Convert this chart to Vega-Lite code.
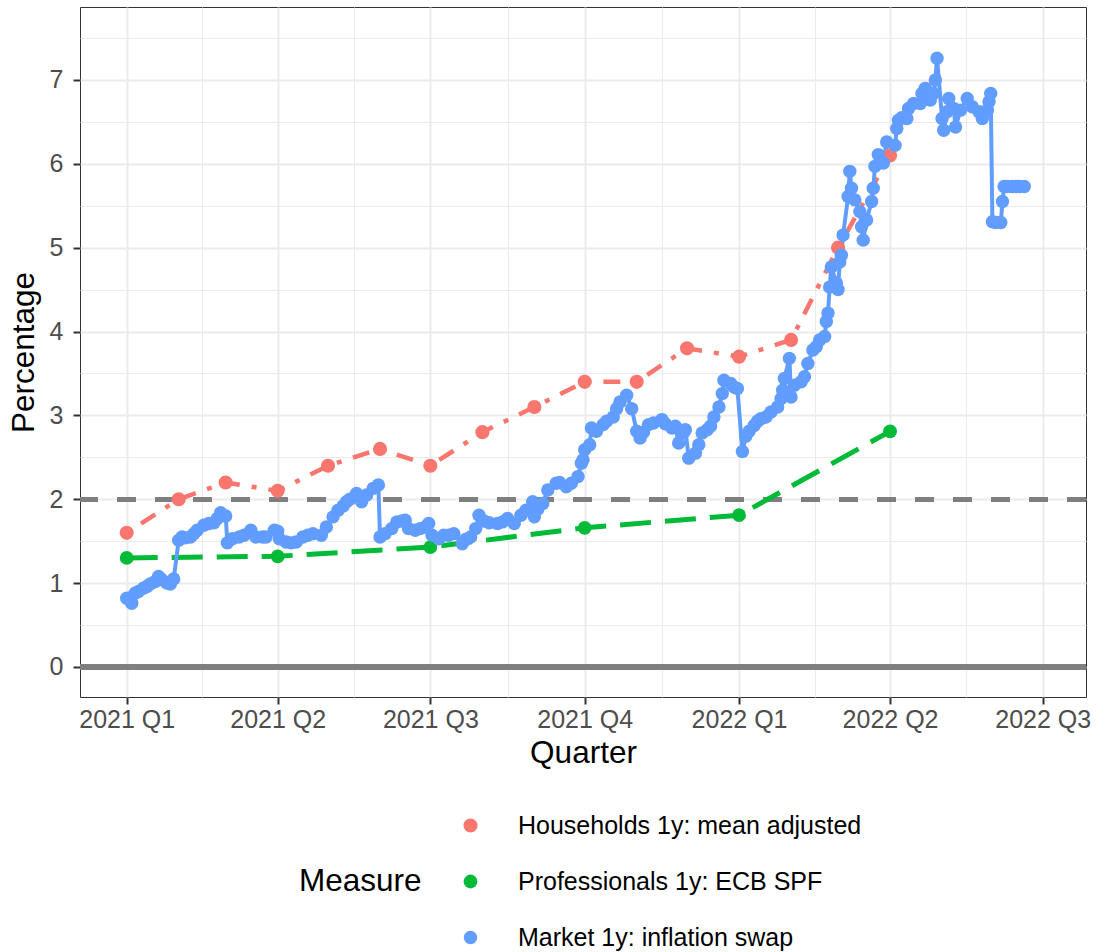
{
  "$schema": "https://vega.github.io/schema/vega-lite/v6.json",
  "width": 1006,
  "height": 690,
  "autosize": {"type": "none"},
  "padding": {"left": 80, "top": 7, "right": 11, "bottom": 255},
  "background": "white",
  "config": {
    "font": "Liberation Sans",
    "view": {"stroke": "#333333", "strokeWidth": 1}
  },
  "data": {
    "values": [
      {"date": "2021-01-01", "value": 1.6, "series": "Households 1y: mean adjusted"},
      {"date": "2021-02-01", "value": 2.0, "series": "Households 1y: mean adjusted"},
      {"date": "2021-03-01", "value": 2.2, "series": "Households 1y: mean adjusted"},
      {"date": "2021-04-01", "value": 2.1, "series": "Households 1y: mean adjusted"},
      {"date": "2021-05-01", "value": 2.4, "series": "Households 1y: mean adjusted"},
      {"date": "2021-06-01", "value": 2.6, "series": "Households 1y: mean adjusted"},
      {"date": "2021-07-01", "value": 2.4, "series": "Households 1y: mean adjusted"},
      {"date": "2021-08-01", "value": 2.8, "series": "Households 1y: mean adjusted"},
      {"date": "2021-09-01", "value": 3.1, "series": "Households 1y: mean adjusted"},
      {"date": "2021-10-01", "value": 3.4, "series": "Households 1y: mean adjusted"},
      {"date": "2021-11-01", "value": 3.4, "series": "Households 1y: mean adjusted"},
      {"date": "2021-12-01", "value": 3.8, "series": "Households 1y: mean adjusted"},
      {"date": "2022-01-01", "value": 3.7, "series": "Households 1y: mean adjusted"},
      {"date": "2022-02-01", "value": 3.9, "series": "Households 1y: mean adjusted"},
      {"date": "2022-03-01", "value": 5.0, "series": "Households 1y: mean adjusted"},
      {"date": "2022-04-01", "value": 6.1, "series": "Households 1y: mean adjusted"},
      {"date": "2021-01-01", "value": 1.30, "series": "Professionals 1y: ECB SPF"},
      {"date": "2021-04-01", "value": 1.32, "series": "Professionals 1y: ECB SPF"},
      {"date": "2021-07-01", "value": 1.43, "series": "Professionals 1y: ECB SPF"},
      {"date": "2021-10-01", "value": 1.66, "series": "Professionals 1y: ECB SPF"},
      {"date": "2022-01-01", "value": 1.81, "series": "Professionals 1y: ECB SPF"},
      {"date": "2022-04-01", "value": 2.81, "series": "Professionals 1y: ECB SPF"},
      {"date": "2021-01-01", "value": 0.82, "series": "Market 1y: inflation swap"},
      {"date": "2021-01-04", "value": 0.76, "series": "Market 1y: inflation swap"},
      {"date": "2021-01-06", "value": 0.88, "series": "Market 1y: inflation swap"},
      {"date": "2021-01-08", "value": 0.90, "series": "Market 1y: inflation swap"},
      {"date": "2021-01-11", "value": 0.94, "series": "Market 1y: inflation swap"},
      {"date": "2021-01-13", "value": 0.96, "series": "Market 1y: inflation swap"},
      {"date": "2021-01-15", "value": 0.99, "series": "Market 1y: inflation swap"},
      {"date": "2021-01-18", "value": 1.02, "series": "Market 1y: inflation swap"},
      {"date": "2021-01-20", "value": 1.08, "series": "Market 1y: inflation swap"},
      {"date": "2021-01-22", "value": 1.04, "series": "Market 1y: inflation swap"},
      {"date": "2021-01-25", "value": 1.00, "series": "Market 1y: inflation swap"},
      {"date": "2021-01-27", "value": 0.99, "series": "Market 1y: inflation swap"},
      {"date": "2021-01-29", "value": 1.05, "series": "Market 1y: inflation swap"},
      {"date": "2021-02-01", "value": 1.51, "series": "Market 1y: inflation swap"},
      {"date": "2021-02-03", "value": 1.55, "series": "Market 1y: inflation swap"},
      {"date": "2021-02-05", "value": 1.54, "series": "Market 1y: inflation swap"},
      {"date": "2021-02-08", "value": 1.55, "series": "Market 1y: inflation swap"},
      {"date": "2021-02-10", "value": 1.59, "series": "Market 1y: inflation swap"},
      {"date": "2021-02-12", "value": 1.63, "series": "Market 1y: inflation swap"},
      {"date": "2021-02-16", "value": 1.69, "series": "Market 1y: inflation swap"},
      {"date": "2021-02-19", "value": 1.71, "series": "Market 1y: inflation swap"},
      {"date": "2021-02-22", "value": 1.72, "series": "Market 1y: inflation swap"},
      {"date": "2021-02-24", "value": 1.77, "series": "Market 1y: inflation swap"},
      {"date": "2021-02-26", "value": 1.84, "series": "Market 1y: inflation swap"},
      {"date": "2021-03-01", "value": 1.80, "series": "Market 1y: inflation swap"},
      {"date": "2021-03-02", "value": 1.48, "series": "Market 1y: inflation swap"},
      {"date": "2021-03-05", "value": 1.53, "series": "Market 1y: inflation swap"},
      {"date": "2021-03-09", "value": 1.55, "series": "Market 1y: inflation swap"},
      {"date": "2021-03-12", "value": 1.57, "series": "Market 1y: inflation swap"},
      {"date": "2021-03-16", "value": 1.63, "series": "Market 1y: inflation swap"},
      {"date": "2021-03-19", "value": 1.55, "series": "Market 1y: inflation swap"},
      {"date": "2021-03-23", "value": 1.55, "series": "Market 1y: inflation swap"},
      {"date": "2021-03-25", "value": 1.55, "series": "Market 1y: inflation swap"},
      {"date": "2021-03-30", "value": 1.63, "series": "Market 1y: inflation swap"},
      {"date": "2021-04-01", "value": 1.62, "series": "Market 1y: inflation swap"},
      {"date": "2021-04-02", "value": 1.53, "series": "Market 1y: inflation swap"},
      {"date": "2021-04-06", "value": 1.49, "series": "Market 1y: inflation swap"},
      {"date": "2021-04-09", "value": 1.48, "series": "Market 1y: inflation swap"},
      {"date": "2021-04-12", "value": 1.49, "series": "Market 1y: inflation swap"},
      {"date": "2021-04-16", "value": 1.55, "series": "Market 1y: inflation swap"},
      {"date": "2021-04-19", "value": 1.57, "series": "Market 1y: inflation swap"},
      {"date": "2021-04-22", "value": 1.59, "series": "Market 1y: inflation swap"},
      {"date": "2021-04-27", "value": 1.57, "series": "Market 1y: inflation swap"},
      {"date": "2021-04-30", "value": 1.67, "series": "Market 1y: inflation swap"},
      {"date": "2021-05-04", "value": 1.79, "series": "Market 1y: inflation swap"},
      {"date": "2021-05-07", "value": 1.87, "series": "Market 1y: inflation swap"},
      {"date": "2021-05-10", "value": 1.92, "series": "Market 1y: inflation swap"},
      {"date": "2021-05-12", "value": 1.97, "series": "Market 1y: inflation swap"},
      {"date": "2021-05-14", "value": 2.00, "series": "Market 1y: inflation swap"},
      {"date": "2021-05-18", "value": 2.07, "series": "Market 1y: inflation swap"},
      {"date": "2021-05-21", "value": 1.97, "series": "Market 1y: inflation swap"},
      {"date": "2021-05-24", "value": 2.05, "series": "Market 1y: inflation swap"},
      {"date": "2021-05-28", "value": 2.13, "series": "Market 1y: inflation swap"},
      {"date": "2021-05-31", "value": 2.17, "series": "Market 1y: inflation swap"},
      {"date": "2021-06-01", "value": 1.55, "series": "Market 1y: inflation swap"},
      {"date": "2021-06-04", "value": 1.59, "series": "Market 1y: inflation swap"},
      {"date": "2021-06-08", "value": 1.65, "series": "Market 1y: inflation swap"},
      {"date": "2021-06-11", "value": 1.73, "series": "Market 1y: inflation swap"},
      {"date": "2021-06-14", "value": 1.74, "series": "Market 1y: inflation swap"},
      {"date": "2021-06-16", "value": 1.75, "series": "Market 1y: inflation swap"},
      {"date": "2021-06-18", "value": 1.65, "series": "Market 1y: inflation swap"},
      {"date": "2021-06-22", "value": 1.63, "series": "Market 1y: inflation swap"},
      {"date": "2021-06-25", "value": 1.65, "series": "Market 1y: inflation swap"},
      {"date": "2021-06-28", "value": 1.67, "series": "Market 1y: inflation swap"},
      {"date": "2021-06-30", "value": 1.71, "series": "Market 1y: inflation swap"},
      {"date": "2021-07-02", "value": 1.57, "series": "Market 1y: inflation swap"},
      {"date": "2021-07-06", "value": 1.53, "series": "Market 1y: inflation swap"},
      {"date": "2021-07-09", "value": 1.57, "series": "Market 1y: inflation swap"},
      {"date": "2021-07-12", "value": 1.57, "series": "Market 1y: inflation swap"},
      {"date": "2021-07-15", "value": 1.59, "series": "Market 1y: inflation swap"},
      {"date": "2021-07-20", "value": 1.47, "series": "Market 1y: inflation swap"},
      {"date": "2021-07-22", "value": 1.52, "series": "Market 1y: inflation swap"},
      {"date": "2021-07-25", "value": 1.55, "series": "Market 1y: inflation swap"},
      {"date": "2021-07-28", "value": 1.65, "series": "Market 1y: inflation swap"},
      {"date": "2021-07-30", "value": 1.81, "series": "Market 1y: inflation swap"},
      {"date": "2021-08-02", "value": 1.74, "series": "Market 1y: inflation swap"},
      {"date": "2021-08-05", "value": 1.72, "series": "Market 1y: inflation swap"},
      {"date": "2021-08-10", "value": 1.71, "series": "Market 1y: inflation swap"},
      {"date": "2021-08-13", "value": 1.73, "series": "Market 1y: inflation swap"},
      {"date": "2021-08-16", "value": 1.77, "series": "Market 1y: inflation swap"},
      {"date": "2021-08-20", "value": 1.71, "series": "Market 1y: inflation swap"},
      {"date": "2021-08-24", "value": 1.81, "series": "Market 1y: inflation swap"},
      {"date": "2021-08-27", "value": 1.87, "series": "Market 1y: inflation swap"},
      {"date": "2021-08-31", "value": 1.97, "series": "Market 1y: inflation swap"},
      {"date": "2021-09-01", "value": 1.79, "series": "Market 1y: inflation swap"},
      {"date": "2021-09-03", "value": 1.88, "series": "Market 1y: inflation swap"},
      {"date": "2021-09-06", "value": 1.95, "series": "Market 1y: inflation swap"},
      {"date": "2021-09-09", "value": 2.11, "series": "Market 1y: inflation swap"},
      {"date": "2021-09-14", "value": 2.19, "series": "Market 1y: inflation swap"},
      {"date": "2021-09-16", "value": 2.20, "series": "Market 1y: inflation swap"},
      {"date": "2021-09-20", "value": 2.15, "series": "Market 1y: inflation swap"},
      {"date": "2021-09-23", "value": 2.19, "series": "Market 1y: inflation swap"},
      {"date": "2021-09-27", "value": 2.27, "series": "Market 1y: inflation swap"},
      {"date": "2021-09-29", "value": 2.43, "series": "Market 1y: inflation swap"},
      {"date": "2021-09-30", "value": 2.47, "series": "Market 1y: inflation swap"},
      {"date": "2021-10-01", "value": 2.59, "series": "Market 1y: inflation swap"},
      {"date": "2021-10-04", "value": 2.65, "series": "Market 1y: inflation swap"},
      {"date": "2021-10-05", "value": 2.85, "series": "Market 1y: inflation swap"},
      {"date": "2021-10-08", "value": 2.81, "series": "Market 1y: inflation swap"},
      {"date": "2021-10-12", "value": 2.89, "series": "Market 1y: inflation swap"},
      {"date": "2021-10-14", "value": 2.93, "series": "Market 1y: inflation swap"},
      {"date": "2021-10-18", "value": 2.98, "series": "Market 1y: inflation swap"},
      {"date": "2021-10-20", "value": 3.08, "series": "Market 1y: inflation swap"},
      {"date": "2021-10-22", "value": 3.16, "series": "Market 1y: inflation swap"},
      {"date": "2021-10-26", "value": 3.24, "series": "Market 1y: inflation swap"},
      {"date": "2021-10-29", "value": 3.08, "series": "Market 1y: inflation swap"},
      {"date": "2021-11-01", "value": 2.81, "series": "Market 1y: inflation swap"},
      {"date": "2021-11-03", "value": 2.73, "series": "Market 1y: inflation swap"},
      {"date": "2021-11-05", "value": 2.80, "series": "Market 1y: inflation swap"},
      {"date": "2021-11-08", "value": 2.89, "series": "Market 1y: inflation swap"},
      {"date": "2021-11-11", "value": 2.91, "series": "Market 1y: inflation swap"},
      {"date": "2021-11-16", "value": 2.95, "series": "Market 1y: inflation swap"},
      {"date": "2021-11-18", "value": 2.90, "series": "Market 1y: inflation swap"},
      {"date": "2021-11-22", "value": 2.85, "series": "Market 1y: inflation swap"},
      {"date": "2021-11-24", "value": 2.87, "series": "Market 1y: inflation swap"},
      {"date": "2021-11-26", "value": 2.67, "series": "Market 1y: inflation swap"},
      {"date": "2021-11-29", "value": 2.80, "series": "Market 1y: inflation swap"},
      {"date": "2021-11-30", "value": 2.83, "series": "Market 1y: inflation swap"},
      {"date": "2021-12-02", "value": 2.49, "series": "Market 1y: inflation swap"},
      {"date": "2021-12-06", "value": 2.55, "series": "Market 1y: inflation swap"},
      {"date": "2021-12-08", "value": 2.65, "series": "Market 1y: inflation swap"},
      {"date": "2021-12-10", "value": 2.79, "series": "Market 1y: inflation swap"},
      {"date": "2021-12-13", "value": 2.83, "series": "Market 1y: inflation swap"},
      {"date": "2021-12-15", "value": 2.87, "series": "Market 1y: inflation swap"},
      {"date": "2021-12-17", "value": 2.98, "series": "Market 1y: inflation swap"},
      {"date": "2021-12-20", "value": 3.10, "series": "Market 1y: inflation swap"},
      {"date": "2021-12-22", "value": 3.26, "series": "Market 1y: inflation swap"},
      {"date": "2021-12-23", "value": 3.42, "series": "Market 1y: inflation swap"},
      {"date": "2021-12-27", "value": 3.38, "series": "Market 1y: inflation swap"},
      {"date": "2021-12-29", "value": 3.34, "series": "Market 1y: inflation swap"},
      {"date": "2021-12-31", "value": 3.32, "series": "Market 1y: inflation swap"},
      {"date": "2022-01-03", "value": 2.57, "series": "Market 1y: inflation swap"},
      {"date": "2022-01-05", "value": 2.75, "series": "Market 1y: inflation swap"},
      {"date": "2022-01-07", "value": 2.81, "series": "Market 1y: inflation swap"},
      {"date": "2022-01-10", "value": 2.88, "series": "Market 1y: inflation swap"},
      {"date": "2022-01-12", "value": 2.93, "series": "Market 1y: inflation swap"},
      {"date": "2022-01-14", "value": 2.96, "series": "Market 1y: inflation swap"},
      {"date": "2022-01-17", "value": 2.98, "series": "Market 1y: inflation swap"},
      {"date": "2022-01-20", "value": 3.04, "series": "Market 1y: inflation swap"},
      {"date": "2022-01-24", "value": 3.10, "series": "Market 1y: inflation swap"},
      {"date": "2022-01-26", "value": 3.20, "series": "Market 1y: inflation swap"},
      {"date": "2022-01-27", "value": 3.30, "series": "Market 1y: inflation swap"},
      {"date": "2022-01-28", "value": 3.44, "series": "Market 1y: inflation swap"},
      {"date": "2022-01-31", "value": 3.68, "series": "Market 1y: inflation swap"},
      {"date": "2022-02-01", "value": 3.22, "series": "Market 1y: inflation swap"},
      {"date": "2022-02-03", "value": 3.36, "series": "Market 1y: inflation swap"},
      {"date": "2022-02-07", "value": 3.40, "series": "Market 1y: inflation swap"},
      {"date": "2022-02-09", "value": 3.46, "series": "Market 1y: inflation swap"},
      {"date": "2022-02-11", "value": 3.62, "series": "Market 1y: inflation swap"},
      {"date": "2022-02-14", "value": 3.78, "series": "Market 1y: inflation swap"},
      {"date": "2022-02-16", "value": 3.82, "series": "Market 1y: inflation swap"},
      {"date": "2022-02-18", "value": 3.90, "series": "Market 1y: inflation swap"},
      {"date": "2022-02-21", "value": 3.94, "series": "Market 1y: inflation swap"},
      {"date": "2022-02-22", "value": 4.12, "series": "Market 1y: inflation swap"},
      {"date": "2022-02-23", "value": 4.22, "series": "Market 1y: inflation swap"},
      {"date": "2022-02-24", "value": 4.53, "series": "Market 1y: inflation swap"},
      {"date": "2022-02-25", "value": 4.77, "series": "Market 1y: inflation swap"},
      {"date": "2022-02-28", "value": 4.58, "series": "Market 1y: inflation swap"},
      {"date": "2022-03-01", "value": 4.50, "series": "Market 1y: inflation swap"},
      {"date": "2022-03-02", "value": 4.83, "series": "Market 1y: inflation swap"},
      {"date": "2022-03-03", "value": 4.91, "series": "Market 1y: inflation swap"},
      {"date": "2022-03-04", "value": 5.15, "series": "Market 1y: inflation swap"},
      {"date": "2022-03-07", "value": 5.61, "series": "Market 1y: inflation swap"},
      {"date": "2022-03-08", "value": 5.91, "series": "Market 1y: inflation swap"},
      {"date": "2022-03-09", "value": 5.71, "series": "Market 1y: inflation swap"},
      {"date": "2022-03-11", "value": 5.57, "series": "Market 1y: inflation swap"},
      {"date": "2022-03-14", "value": 5.43, "series": "Market 1y: inflation swap"},
      {"date": "2022-03-15", "value": 5.25, "series": "Market 1y: inflation swap"},
      {"date": "2022-03-16", "value": 5.09, "series": "Market 1y: inflation swap"},
      {"date": "2022-03-18", "value": 5.33, "series": "Market 1y: inflation swap"},
      {"date": "2022-03-21", "value": 5.55, "series": "Market 1y: inflation swap"},
      {"date": "2022-03-22", "value": 5.71, "series": "Market 1y: inflation swap"},
      {"date": "2022-03-23", "value": 5.97, "series": "Market 1y: inflation swap"},
      {"date": "2022-03-25", "value": 6.11, "series": "Market 1y: inflation swap"},
      {"date": "2022-03-28", "value": 6.01, "series": "Market 1y: inflation swap"},
      {"date": "2022-03-30", "value": 6.26, "series": "Market 1y: inflation swap"},
      {"date": "2022-04-04", "value": 6.22, "series": "Market 1y: inflation swap"},
      {"date": "2022-04-05", "value": 6.42, "series": "Market 1y: inflation swap"},
      {"date": "2022-04-06", "value": 6.52, "series": "Market 1y: inflation swap"},
      {"date": "2022-04-08", "value": 6.55, "series": "Market 1y: inflation swap"},
      {"date": "2022-04-11", "value": 6.54, "series": "Market 1y: inflation swap"},
      {"date": "2022-04-12", "value": 6.66, "series": "Market 1y: inflation swap"},
      {"date": "2022-04-15", "value": 6.72, "series": "Market 1y: inflation swap"},
      {"date": "2022-04-19", "value": 6.72, "series": "Market 1y: inflation swap"},
      {"date": "2022-04-20", "value": 6.84, "series": "Market 1y: inflation swap"},
      {"date": "2022-04-22", "value": 6.90, "series": "Market 1y: inflation swap"},
      {"date": "2022-04-25", "value": 6.76, "series": "Market 1y: inflation swap"},
      {"date": "2022-04-27", "value": 6.84, "series": "Market 1y: inflation swap"},
      {"date": "2022-04-28", "value": 7.00, "series": "Market 1y: inflation swap"},
      {"date": "2022-04-29", "value": 7.26, "series": "Market 1y: inflation swap"},
      {"date": "2022-05-02", "value": 6.54, "series": "Market 1y: inflation swap"},
      {"date": "2022-05-03", "value": 6.40, "series": "Market 1y: inflation swap"},
      {"date": "2022-05-05", "value": 6.62, "series": "Market 1y: inflation swap"},
      {"date": "2022-05-06", "value": 6.78, "series": "Market 1y: inflation swap"},
      {"date": "2022-05-09", "value": 6.66, "series": "Market 1y: inflation swap"},
      {"date": "2022-05-10", "value": 6.44, "series": "Market 1y: inflation swap"},
      {"date": "2022-05-13", "value": 6.64, "series": "Market 1y: inflation swap"},
      {"date": "2022-05-17", "value": 6.78, "series": "Market 1y: inflation swap"},
      {"date": "2022-05-20", "value": 6.68, "series": "Market 1y: inflation swap"},
      {"date": "2022-05-24", "value": 6.62, "series": "Market 1y: inflation swap"},
      {"date": "2022-05-26", "value": 6.54, "series": "Market 1y: inflation swap"},
      {"date": "2022-05-29", "value": 6.64, "series": "Market 1y: inflation swap"},
      {"date": "2022-05-30", "value": 6.74, "series": "Market 1y: inflation swap"},
      {"date": "2022-05-31", "value": 6.84, "series": "Market 1y: inflation swap"},
      {"date": "2022-06-01", "value": 5.31, "series": "Market 1y: inflation swap"},
      {"date": "2022-06-03", "value": 5.30, "series": "Market 1y: inflation swap"},
      {"date": "2022-06-06", "value": 5.30, "series": "Market 1y: inflation swap"},
      {"date": "2022-06-07", "value": 5.55, "series": "Market 1y: inflation swap"},
      {"date": "2022-06-08", "value": 5.73, "series": "Market 1y: inflation swap"},
      {"date": "2022-06-10", "value": 5.73, "series": "Market 1y: inflation swap"},
      {"date": "2022-06-13", "value": 5.73, "series": "Market 1y: inflation swap"},
      {"date": "2022-06-15", "value": 5.73, "series": "Market 1y: inflation swap"},
      {"date": "2022-06-17", "value": 5.73, "series": "Market 1y: inflation swap"},
      {"date": "2022-06-20", "value": 5.73, "series": "Market 1y: inflation swap"}
    ]
  },
  "encoding": {
    "x": {
      "field": "date",
      "type": "temporal",
      "scale": {
        "type": "utc",
        "domain": [
          {"year": 2020, "month": 12, "date": 4, "hours": 4, "utc": true},
          {"year": 2022, "month": 7, "date": 26, "hours": 19, "utc": true}
        ],
        "nice": false
      },
      "axis": {
        "title": "Quarter",
        "values": [
          {"year": 2021, "month": 1, "date": 1, "utc": true},
          {"year": 2021, "month": 2, "date": 15, "utc": true},
          {"year": 2021, "month": 4, "date": 1, "utc": true},
          {"year": 2021, "month": 5, "date": 16, "hours": 12, "utc": true},
          {"year": 2021, "month": 7, "date": 1, "utc": true},
          {"year": 2021, "month": 8, "date": 16, "utc": true},
          {"year": 2021, "month": 10, "date": 1, "utc": true},
          {"year": 2021, "month": 11, "date": 16, "utc": true},
          {"year": 2022, "month": 1, "date": 1, "utc": true},
          {"year": 2022, "month": 2, "date": 15, "utc": true},
          {"year": 2022, "month": 4, "date": 1, "utc": true},
          {"year": 2022, "month": 5, "date": 16, "hours": 12, "utc": true},
          {"year": 2022, "month": 7, "date": 1, "utc": true}
        ],
        "labelExpr": "utcdate(datum.value) === 1 ? utcyear(datum.value) + ' Q' + utcquarter(datum.value) : ''",
        "labelFontSize": 25,
        "labelColor": "#4D4D4D",
        "labelPadding": 3,
        "labelFlush": false,
        "labelOverlap": false,
        "domain": false,
        "grid": true,
        "gridColor": "#EBEBEB",
        "gridWidth": {"condition": {"test": "utcdate(datum.value) === 1", "value": 2}, "value": 1},
        "tickColor": "#333333",
        "tickWidth": 2,
        "tickSize": 7,
        "tickOpacity": {"condition": {"test": "utcdate(datum.value) === 1", "value": 1}, "value": 0},
        "titleFontSize": 31.5,
        "titleFontWeight": "normal",
        "titleColor": "#000000",
        "titlePadding": 5
      }
    },
    "y": {
      "field": "value",
      "type": "quantitative",
      "scale": {"domain": [-0.358, 7.87], "nice": false, "zero": false},
      "axis": {
        "title": "Percentage",
        "values": [0, 0.5, 1, 1.5, 2, 2.5, 3, 3.5, 4, 4.5, 5, 5.5, 6, 6.5, 7, 7.5],
        "labelExpr": "datum.value % 1 === 0 ? '' + datum.value : ''",
        "labelFontSize": 25,
        "labelColor": "#4D4D4D",
        "labelPadding": 10,
        "labelFlush": false,
        "labelOverlap": false,
        "domain": false,
        "grid": true,
        "gridColor": "#EBEBEB",
        "gridWidth": {"condition": {"test": "datum.value % 1 === 0", "value": 2}, "value": 1},
        "tickColor": "#333333",
        "tickWidth": 2,
        "tickSize": 7,
        "tickOpacity": {"condition": {"test": "datum.value % 1 === 0", "value": 1}, "value": 0},
        "titleFontSize": 31.5,
        "titleFontWeight": "normal",
        "titleColor": "#000000",
        "titlePadding": 9
      }
    }
  },
  "layer": [
    {
      "mark": {"type": "rule", "color": "#7F7F7F", "strokeWidth": 4.5},
      "encoding": {"y": {"datum": 0, "type": "quantitative"}, "x": null}
    },
    {
      "mark": {"type": "rule", "color": "#7F7F7F", "strokeWidth": 4.5, "strokeDash": [19, 19]},
      "encoding": {"y": {"datum": 2, "type": "quantitative"}, "x": null}
    },
    {
      "transform": [{"filter": "datum.series === 'Households 1y: mean adjusted'"}],
      "mark": {"type": "line", "color": "#F8766D", "strokeWidth": 4.5, "strokeDash": [5, 12, 17, 12]}
    },
    {
      "transform": [{"filter": "datum.series === 'Professionals 1y: ECB SPF'"}],
      "mark": {"type": "line", "color": "#00BA38", "strokeWidth": 5, "strokeDash": [31, 14]}
    },
    {
      "transform": [{"filter": "datum.series === 'Market 1y: inflation swap'"}],
      "mark": {"type": "line", "color": "#619CFF", "strokeWidth": 4}
    },
    {
      "mark": {"type": "point", "filled": true, "opacity": 1, "strokeWidth": 0},
      "encoding": {
        "color": {
          "field": "series",
          "type": "nominal",
          "scale": {
            "domain": ["Households 1y: mean adjusted", "Professionals 1y: ECB SPF", "Market 1y: inflation swap"],
            "range": ["#F8766D", "#00BA38", "#619CFF"]
          },
          "legend": {
            "title": "Measure",
            "orient": "none",
            "legendX": 219,
            "legendY": 806,
            "titleOrient": "left",
            "titleAnchor": "middle",
            "titleBaseline": "middle",
            "titleFontSize": 31.5,
            "titleFontWeight": "normal",
            "titleColor": "#000000",
            "titlePadding": 36,
            "labelFontSize": 25,
            "labelColor": "#000000",
            "labelOffset": 35,
            "labelLimit": 0,
            "symbolType": "circle",
            "symbolSize": 75,
            "symbolStrokeWidth": 0,
            "symbolOpacity": 1,
            "rowPadding": 30,
            "padding": 0
          }
        },
        "size": {
          "field": "series",
          "type": "nominal",
          "scale": {
            "domain": ["Households 1y: mean adjusted", "Professionals 1y: ECB SPF", "Market 1y: inflation swap"],
            "range": [200, 180, 78]
          },
          "legend": null
        }
      }
    }
  ]
}
